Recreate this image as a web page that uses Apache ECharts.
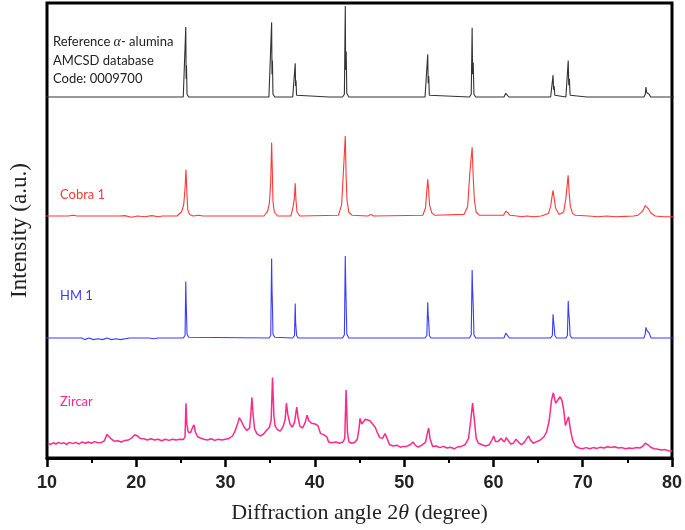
<!DOCTYPE html>
<html>
<head>
<meta charset="utf-8">
<script src="https://cdn.jsdelivr.net/npm/echarts@6/dist/echarts.min.js"></script>
<style>
  html, body { margin: 0; padding: 0; background: #fff; }
  #chart { width: 685px; height: 530px; }
</style>
</head>
<body>
<div id="chart"></div>
<script>
// x axis ticks (2-theta, degree)
const xTicks = [10, 20, 30, 40, 50, 60, 70, 80]

// [2theta, relative intensity]
const refAlumina = [
  [10, 0], [25.3, 0], [25.5, 2], [25.58, 77], [25.62, 20], [25.66, 35], [25.72, 3], [25.9, 0],
  [34.85, 0], [35.05, 2], [35.15, 82], [35.19, 25], [35.24, 40], [35.3, 3], [35.5, 0],
  [37.5, 0], [37.7, 2], [37.78, 37], [37.82, 12], [37.87, 18], [37.93, 2], [38.1, 0],
  [41.55, 0], [41.68, 2], [41.8, 0],
  [43.05, 0], [43.26, 3], [43.36, 100], [43.4, 30], [43.46, 50], [43.53, 4], [43.75, 0],
  [46.05, 0], [46.18, 2], [46.3, 0],
  [52.25, 0], [52.45, 2], [52.55, 47], [52.6, 15], [52.66, 23], [52.73, 2], [52.9, 0],
  [57.2, 0], [57.4, 3], [57.5, 76], [57.55, 25], [57.62, 38], [57.7, 3], [57.9, 0],
  [59.62, 0], [59.74, 1], [59.86, 0],
  [61.05, 0], [61.25, 4], [61.3, 5], [61.42, 3], [61.6, 0],
  [66.25, 0], [66.44, 2], [66.52, 24], [66.58, 8], [66.64, 12], [66.72, 2], [66.9, 0],
  [67.95, 0], [68.12, 2], [68.21, 40], [68.27, 13], [68.34, 20], [68.42, 2], [68.6, 0],
  [70.3, 0], [70.42, 1], [70.55, 0],
  [74.18, 0], [74.3, 1], [74.42, 0],
  [76.65, 0], [76.8, 3], [76.87, 11], [76.95, 5], [77.05, 6], [77.23, 3], [77.4, 0], [80, 0]
]

const cobra1 = [
  [10, 0], [12.5, 0], [13, 1], [13.5, 0], [18.2, 0], [18.4, -1], [18.8, 0.5], [19.5, -1.5],
  [20.2, 0], [21, -1], [21.8, 0.5], [22.5, -1], [23, 0], [24.6, 0],
  [25.1, 5], [25.35, 14], [25.5, 35], [25.6, 58], [25.7, 30], [25.8, 8], [26.0, 2], [26.4, 0],
  [27, 1], [27.5, 0], [34.3, 0],
  [34.7, 6], [34.9, 16], [35.05, 43], [35.15, 92], [35.22, 60], [35.3, 18], [35.45, 5], [35.8, 0],
  [37.3, 0], [37.55, 12], [37.68, 22], [37.78, 41], [37.86, 20], [37.98, 5], [38.3, 0],
  [42.6, 1], [42.95, 14], [43.15, 55], [43.36, 100], [43.45, 50], [43.55, 20], [43.75, 5], [44.1, 1],
  [45.9, 0], [46.2, 2], [46.5, 0],
  [52.0, 1], [52.3, 10], [52.45, 32], [52.55, 46], [52.65, 32], [52.75, 14], [53.0, 4], [53.3, 1],
  [56.6, 2], [57.0, 12], [57.25, 55], [57.5, 86], [57.62, 48], [57.75, 20], [57.95, 5], [58.3, 1],
  [59.7, 1], [59.85, 2.5], [60.0, 1],
  [61.0, 1], [61.25, 6], [61.35, 8], [61.5, 4], [61.7, 1],
  [62.5, 0], [63, -1], [63.6, 0], [64.4, -1], [65.2, 0],
  [66.0, 3], [66.25, 12], [66.4, 24], [66.52, 32], [66.62, 24], [66.8, 10], [67.0, 6],
  [67.2, 2], [67.4, 1], [67.7, 5], [67.95, 22], [68.2, 51], [68.32, 28], [68.45, 12], [68.7, 3], [69.0, 1],
  [70.5, 0], [71.5, -1], [72.5, 0], [73.5, -1], [74.5, -0.5], [75.5, 0],
  [76.0, 1], [76.5, 6], [76.8, 13], [76.95, 14], [77.15, 9], [77.4, 4], [77.9, 0],
  [78.8, -1], [80, -1]
]

const hm1 = [
  [10, 0], [14, 0], [14.3, -2], [14.8, 0], [15.3, -2], [15.8, -1], [16.3, -2], [16.8, 0],
  [17.3, -2], [17.8, -1], [18.3, -2], [19.3, 0], [21.5, 0], [22, -1], [22.5, 0], [25.3, 0],
  [25.5, 3], [25.58, 69], [25.62, 45], [25.66, 30], [25.72, 5], [25.9, 1], [26.1, 0],
  [34.85, 0], [35.05, 3], [35.15, 97], [35.19, 60], [35.24, 40], [35.3, 5], [35.5, 1], [35.7, 0],
  [37.5, 0], [37.7, 3], [37.78, 42], [37.82, 20], [37.87, 18], [37.93, 3], [38.1, 0],
  [43.05, 0], [43.26, 4], [43.36, 100], [43.4, 70], [43.46, 40], [43.53, 5], [43.75, 0],
  [46.1, 0], [46.25, 1.5], [46.4, 0],
  [52.25, 0], [52.45, 3], [52.55, 43.5], [52.6, 28], [52.66, 20], [52.73, 3], [52.9, 0],
  [57.2, 0], [57.4, 4], [57.5, 83], [57.55, 60], [57.62, 40], [57.7, 4], [57.9, 0],
  [59.65, 0], [59.8, 1.5], [59.95, 0],
  [61.05, 0], [61.25, 6], [61.32, 8], [61.45, 4], [61.65, 0],
  [66.25, 0], [66.44, 3], [66.52, 29], [66.58, 20], [66.64, 14], [66.72, 3], [66.9, 0],
  [67.95, 0], [68.12, 3], [68.21, 45], [68.27, 30], [68.34, 22], [68.42, 3], [68.6, 0],
  [70.3, 0], [70.45, 1.5], [70.6, 0],
  [74.15, 0], [74.3, 1.5], [74.45, 0],
  [76.65, 0], [76.8, 5], [76.87, 13], [76.95, 10], [77.05, 11], [77.23, 6], [77.45, 0], [80, 0]
]

const zircar = [
  [10.2, 16], [10.5, 14.5], [10.8, 16.5], [11.1, 15], [11.4, 17], [11.7, 15.5], [12, 16.5],
  [12.3, 14.5], [12.6, 17], [13, 15.5], [13.3, 17], [13.7, 15], [14, 17.5], [14.4, 16],
  [14.7, 17.5], [15.1, 16], [15.4, 18], [15.8, 16.5], [16.2, 17], [16.5, 19], [16.8, 27],
  [17.0, 28], [17.3, 21], [17.6, 18.5], [18, 19], [18.4, 17.5], [18.8, 19.5], [19.2, 20],
  [19.6, 23], [19.9, 26.5], [20.2, 25], [20.5, 22], [20.9, 21.5], [21.3, 20], [21.7, 21.5],
  [22.1, 20], [22.5, 21], [22.9, 19], [23.3, 21], [23.7, 19.5], [24.1, 21], [24.5, 20],
  [24.9, 21], [25.3, 20.5], [25.5, 24], [25.6, 66], [25.7, 40], [25.85, 30], [26.1, 29],
  [26.35, 36], [26.5, 39], [26.65, 30], [26.9, 24], [27.2, 22.5], [27.6, 21], [28, 20],
  [28.4, 21.5], [28.8, 19.5], [29.2, 21], [29.6, 20], [30, 21], [30.4, 22], [30.8, 25],
  [31.1, 32], [31.4, 42], [31.55, 48], [31.8, 43], [32.1, 36], [32.4, 32], [32.7, 35],
  [32.85, 55], [32.95, 73], [33.1, 50], [33.25, 34], [33.5, 28], [33.9, 25], [34.2, 27],
  [34.5, 31], [34.9, 36], [35.1, 45], [35.25, 98], [35.4, 50], [35.55, 37], [35.8, 33],
  [36.1, 31], [36.4, 36], [36.65, 45], [36.8, 66], [36.95, 52], [37.2, 40], [37.45, 36],
  [37.7, 42], [37.95, 61], [38.1, 48], [38.3, 37], [38.6, 35], [38.9, 42], [39.1, 51],
  [39.3, 44], [39.6, 41], [40.0, 40], [40.3, 38], [40.6, 28], [40.9, 27], [41.1, 29],
  [41.3, 24], [41.5, 17.5], [41.9, 16.5], [42.3, 17.5], [42.7, 16], [43.1, 17.5], [43.3, 22],
  [43.45, 82.5], [43.6, 30], [43.75, 18], [44.0, 16], [44.4, 17], [44.7, 21], [44.9, 35],
  [45.0, 47], [45.2, 40], [45.4, 38], [45.6, 46], [45.8, 47], [46.1, 44], [46.4, 40],
  [46.7, 36], [46.9, 30], [47.2, 23], [47.5, 22], [47.8, 28], [48.0, 26], [48.3, 14],
  [48.7, 12.5], [49.1, 13.5], [49.5, 11], [49.8, 12], [50.2, 12], [50.6, 14], [50.9, 17.5],
  [51.2, 13], [51.5, 11], [51.9, 13.5], [52.3, 17], [52.5, 28], [52.65, 35], [52.8, 22],
  [53.1, 12], [53.5, 12.5], [53.9, 10.5], [54.3, 12], [54.7, 10], [55.1, 11], [55.5, 9],
  [55.9, 11.5], [56.3, 12], [56.7, 14], [57.1, 22], [57.35, 45], [57.55, 66], [57.75, 45],
  [57.95, 22], [58.2, 16], [58.6, 14], [59.0, 12.5], [59.4, 14], [59.7, 20], [59.9, 25],
  [60.1, 18], [60.4, 18], [60.7, 22], [60.9, 21], [61.1, 17.5], [61.3, 23], [61.5, 22],
  [61.8, 15], [62.1, 16], [62.4, 21], [62.7, 17], [63.0, 14], [63.3, 17], [63.6, 22],
  [63.8, 25], [64.0, 20], [64.3, 16], [64.7, 18], [65.1, 20], [65.5, 24], [65.8, 30],
  [66.1, 45], [66.35, 70], [66.55, 79], [66.8, 66], [67.0, 68], [67.3, 74], [67.5, 70],
  [67.7, 58], [67.9, 38], [68.05, 36], [68.25, 49], [68.45, 33], [68.7, 20], [69.0, 12.5],
  [69.4, 10], [69.8, 9], [70.2, 10.5], [70.6, 9], [71.0, 10.5], [71.4, 9.5], [71.8, 11],
  [72.2, 10], [72.6, 11.5], [73.0, 10.5], [73.4, 11.5], [73.8, 10], [74.2, 10.5], [74.6, 9],
  [75.0, 10], [75.4, 9.5], [75.8, 10.5], [76.2, 10], [76.5, 12], [76.8, 16], [77.1, 14],
  [77.4, 11], [77.8, 9], [78.2, 8.5], [78.6, 7.5], [79.0, 8], [79.4, 6.5], [79.8, 6]
]

const seriesNames = ['Reference', 'Cobra 1', 'HM 1', 'Zircar']
const seriesData = [refAlumina, cobra1, hm1, zircar]
const seriesColors = ['#333333', '#ff3838', '#3b3bff', '#ff2a88']

let myChart = echarts.init(document.getElementById('chart'))

// one frame grid + one grid per pattern, stacked
const panelGrids = [
  { top: 6, height: 91 },
  { top: 136, height: 80 },
  { top: 256, height: 82 },
  { top: 376, height: 80 }
]

const grids = [{ left: 46, right: 11, top: 3, bottom: 72, show: true, borderColor: '#000', borderWidth: 3, backgroundColor: 'transparent' }]
panelGrids.forEach(g => grids.push({ left: 46, right: 11, top: g.top, height: g.height }))

const xAxes = [{
  type: 'value', gridIndex: 0, min: 10, max: 80, interval: 10,
  axisLine: { show: true, onZero: false, lineStyle: { color: '#000', width: 3 } },
  axisTick: { show: true, inside: false, length: 9, lineStyle: { color: '#000', width: 2.5 } },
  minorTick: { show: true, splitNumber: 2, length: 5, lineStyle: { color: '#000', width: 2 } },
  splitLine: { show: false },
  axisLabel: { margin: 16, fontFamily: 'Liberation Sans', fontSize: 18, fontWeight: 'bold', color: '#222',
    formatter: v => xTicks.indexOf(v) >= 0 ? String(v) : '' },
  name: '{a|Diffraction angle 2}{b|θ}{a| (degree)}',
  nameLocation: 'middle', nameGap: 44,
  nameTextStyle: {
    rich: {
      a: { fontFamily: 'Liberation Serif', fontSize: 22, color: '#222' },
      b: { fontFamily: 'Liberation Serif', fontSize: 22, fontStyle: 'italic', color: '#222' }
    }
  }
}]
const yAxes = [{
  type: 'value', gridIndex: 0, min: 0, max: 1,
  axisLine: { show: false }, axisTick: { show: false }, axisLabel: { show: false }, splitLine: { show: false },
  name: 'Intensity (a.u.)', nameLocation: 'middle', nameGap: 16,
  nameTextStyle: { fontFamily: 'Liberation Serif', fontSize: 23, color: '#222' }
}]
panelGrids.forEach((g, i) => {
  xAxes.push({ type: 'value', gridIndex: i + 1, min: 10, max: 80, show: false })
  yAxes.push({ type: 'value', gridIndex: i + 1, min: 0, max: 100, show: false })
})

const lbl = (x, y, text, color) => ({
  type: 'text', left: x, top: y,
  style: { text: text, fill: color, font: '13px Lato' }
})

myChart.setOption({
  animation: false,
  grid: grids,
  xAxis: xAxes,
  yAxis: yAxes,
  series: seriesData.map((d, i) => ({
    name: seriesNames[i],
    type: 'line',
    xAxisIndex: i + 1,
    yAxisIndex: i + 1,
    data: d,
    showSymbol: false,
    clip: false,
    lineStyle: { color: seriesColors[i], width: i === 3 ? 1.5 : 1.1 },
    z: 3
  })),
  graphic: [
    {
      type: 'text', left: 53, top: 35,
      style: {
        text: '{n|Reference }{g|α}{n|- alumina}\n{n|AMCSD database}\n{n|Code: 0009700}',
        rich: {
          n: { font: '13px Lato', fill: '#222', lineHeight: 18.5 },
          g: { font: 'italic 14px "Liberation Serif"', fill: '#222', lineHeight: 18.5 }
        }
      }
    },
    lbl(60, 188, 'Cobra 1', seriesColors[1]),
    lbl(60, 289, 'HM 1', seriesColors[2]),
    lbl(60, 395, 'Zircar', seriesColors[3])
  ]
})
</script>
</body>
</html>
